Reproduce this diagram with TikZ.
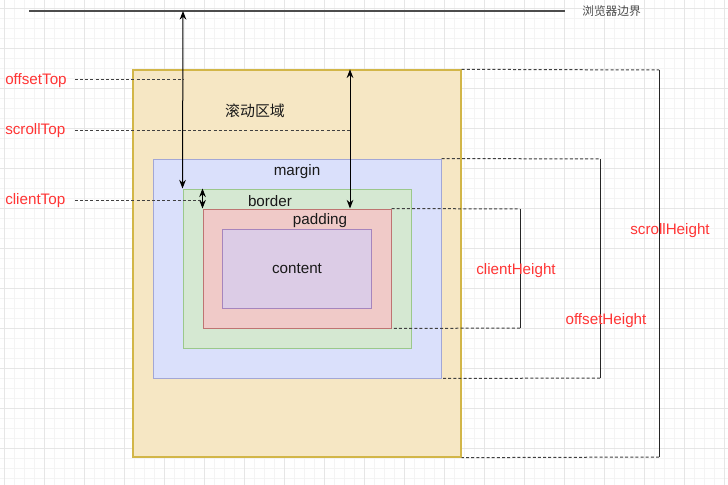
\documentclass[tikz,border=0pt]{standalone}
\usepackage{fontspec}
\setmainfont{Liberation Sans}
\newfontfamily\cjkfont{Noto Sans CJK SC}
\usetikzlibrary{positioning,fit,arrows.meta}
\definecolor{scrollfill}{HTML}{F6E7C4}
\definecolor{scrolldraw}{HTML}{D2B648}
\definecolor{marginfill}{HTML}{DAE0FB}
\definecolor{margindraw}{HTML}{A2A7D6}
\definecolor{borderfill}{HTML}{D5E8D2}
\definecolor{borderdraw}{HTML}{9BC88B}
\definecolor{paddingfill}{HTML}{F0CAC8}
\definecolor{paddingdraw}{HTML}{BF7472}
\definecolor{contentfill}{HTML}{DCCCE6}
\definecolor{contentdraw}{HTML}{A685BD}
\definecolor{measure}{HTML}{FF3535}
\definecolor{gridmajor}{HTML}{E6E6E6}
\definecolor{gridminor}{HTML}{F4F4F4}

\begin{document}
\begin{tikzpicture}[
    x=0.75pt, y=-0.75pt,
    font=\fontsize{11.4}{13}\selectfont,
    box/.style={draw, rectangle, inner sep=0pt, line width=0.75pt},
    boxtext/.style={inner sep=0pt, text=black!90},
    prop/.style={inner sep=0pt, text=measure},
    guide/.style={draw=black!75, dash pattern=on 2.25pt off 1.6pt, line width=0.75pt},
    span/.style={draw=black!85, line width=0.65pt},
    both/.style={{Stealth[length=6.5pt,width=5pt]}-{Stealth[length=6.5pt,width=5pt]}, line width=0.75pt}
]
    \useasboundingbox (0,0) rectangle (728,485);
    % background grid
    \foreach \gx in {4,14,...,724} \draw[gridminor, line width=0.5pt] (\gx,0) -- (\gx,485);
    \foreach \gy in {8,18,...,478} \draw[gridminor, line width=0.5pt] (0,\gy) -- (728,\gy);
    \foreach \gx in {4,44,...,724} \draw[gridmajor, line width=0.6pt] (\gx,0) -- (\gx,485);
    \foreach \gy in {8,48,...,478} \draw[gridmajor, line width=0.6pt] (0,\gy) -- (728,\gy);

    % browser edge
    \coordinate (edgeL) at (29,11);
    \coordinate (edgeR) at (565,11);
    \draw[black!70, line width=1.4pt] (edgeL) -- (edgeR);
    \node [anchor=west, inner sep=0pt, text=black!70, font=\cjkfont\fontsize{8.8}{10}\selectfont] (edgename) at (582,11) {浏览器边界};

    % nested boxes
    \node [box, fill=scrollfill, draw=scrolldraw, line width=1pt, fit={(133,70) (461,457)}] (scroll) {};
    \node [box, fill=marginfill, draw=margindraw, fit={(153,159) (441,378)}] (margin) {};
    \node [box, fill=borderfill, draw=borderdraw, fit={(183,189) (411,348)}] (border) {};
    \node [box, fill=paddingfill, draw=paddingdraw, fit={(203,209) (391,328)}] (padding) {};
    \node [box, fill=contentfill, draw=contentdraw, fit={(222,229) (371,308)}] (content) {};

    \node [boxtext, font=\cjkfont\fontsize{11.2}{13}\selectfont] (scrollname) at (255,111) {滚动区域};
    \node [boxtext] (marginname) at (297,172) {margin};
    \node [boxtext] (bordername) at (270,201) {border};
    \node [boxtext] (paddingname) at (320,221) {padding};
    \node [boxtext] (contentname) at (297,269) {content};

    % top measures
    \node [prop, anchor=west] (offsetTop) at (5,81) {offsetTop};
    \node [prop, anchor=west] (scrollTop) at (5,131) {scrollTop};
    \node [prop, anchor=west] (clientTop) at (5,201) {clientTop};
    \coordinate (otStart) at (75,80);
    \coordinate (stStart) at (75,130);
    \coordinate (ctStart) at (75,200);
    \coordinate (otEdge) at (183,11);
    \coordinate (otMid) at (183,80);
    \coordinate (stMid) at (350,130);
    \coordinate (ctMid) at (203,200);

    \draw[both] (otEdge) -- (border.north west);
    \draw[both] (scroll.north -| stMid) -- (padding.north -| stMid);
    \draw[both] (border.north -| padding.west) -- (padding.north west);
    \draw[guide] (otStart) -- (otMid);
    \draw[guide] (stStart) -- (stMid);
    \draw[guide] (ctStart) -- (ctMid);

    % height measures
    \coordinate (chTop) at (520,209);
    \coordinate (chBot) at (520,328);
    \coordinate (ohTop) at (600,159);
    \coordinate (ohBot) at (600,378);
    \coordinate (shTop) at (659,70);
    \coordinate (shBot) at (659,457);

    \draw[guide] (padding.north east) -- (chTop);
    \draw[span] (chTop) -- (chBot);
    \draw[guide] (chBot) -- (padding.south east);
    \draw[guide] (margin.north east) -- (ohTop);
    \draw[span] (ohTop) -- (ohBot);
    \draw[guide] (ohBot) -- (margin.south east);
    \draw[guide] (scroll.north east) -- (shTop);
    \draw[span] (shTop) -- (shBot);
    \draw[guide] (shBot) -- (scroll.south east);

    \node [prop] (clientHeight) at (516,271) {clientHeight};
    \node [prop] (offsetHeight) at (606,321) {offsetHeight};
    \node [prop] (scrollHeight) at (670,231) {scrollHeight};
\end{tikzpicture}
\end{document}
